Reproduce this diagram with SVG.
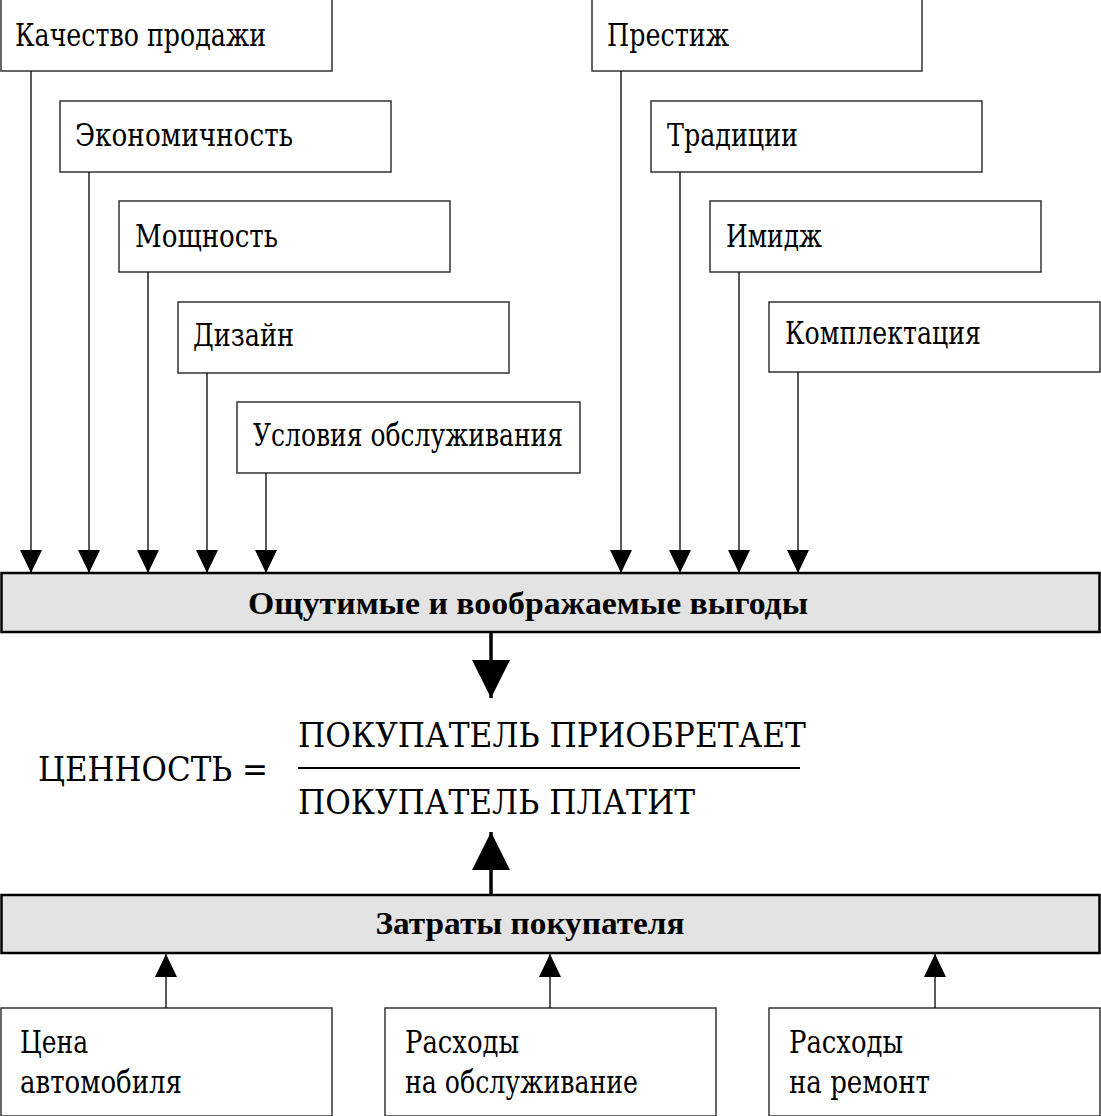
<svg xmlns="http://www.w3.org/2000/svg" width="1101" height="1116" viewBox="0 0 1101 1116">
<style>
.box{fill:#fff;stroke:#333;stroke-width:1.5}
.gbox{fill:#e3e3e3;stroke:#000;stroke-width:2.5}
.t{font-family:"DejaVu Serif","Liberation Serif",serif;font-size:31px;font-weight:normal;fill:#000}
.b{font-family:"Liberation Serif","Times New Roman",serif;font-size:31px;font-weight:bold;fill:#000}
.f{font-family:"DejaVu Serif","Liberation Serif",serif;font-size:33px;font-weight:normal;fill:#000}
.ln{stroke:#000;stroke-width:1.3;fill:none}
.lnb{stroke:#000;stroke-width:3.5;fill:none}
</style>
<defs>
<marker id="ah" markerUnits="userSpaceOnUse" markerWidth="23" markerHeight="22" refX="23" refY="11" orient="auto">
<path d="M0,0 L23,11 L0,22 z" fill="#000"/>
</marker>
<marker id="ahb" markerUnits="userSpaceOnUse" markerWidth="38" markerHeight="38" refX="38" refY="19" orient="auto">
<path d="M0,0 L38,19 L0,38 z" fill="#000"/>
</marker>
</defs>

<g id="n-kachestvo"><rect class="box" x="1" y="-1" width="331" height="72"/><text class="t" x="15" y="46" textLength="251" lengthAdjust="spacingAndGlyphs">Качество продажи</text></g>
<g id="n-ekonom"><rect class="box" x="60" y="101" width="331" height="71"/><text class="t" x="75" y="146" textLength="218" lengthAdjust="spacingAndGlyphs">Экономичность</text></g>
<g id="n-moshch"><rect class="box" x="119" y="201" width="331" height="71"/><text class="t" x="135" y="247" textLength="143" lengthAdjust="spacingAndGlyphs">Мощность</text></g>
<g id="n-dizain"><rect class="box" x="178" y="302" width="331" height="71"/><text class="t" x="193" y="346" textLength="101" lengthAdjust="spacingAndGlyphs">Дизайн</text></g>
<g id="n-uslovia"><rect class="box" x="237" y="402" width="343" height="71"/><text class="t" x="253" y="446" textLength="310" lengthAdjust="spacingAndGlyphs">Условия обслуживания</text></g>

<g id="n-prestizh"><rect class="box" x="592" y="-1" width="330" height="72"/><text class="t" x="607" y="46" textLength="122" lengthAdjust="spacingAndGlyphs">Престиж</text></g>
<g id="n-tradicii"><rect class="box" x="651" y="101" width="331" height="71"/><text class="t" x="667" y="146" textLength="131" lengthAdjust="spacingAndGlyphs">Традиции</text></g>
<g id="n-imidzh"><rect class="box" x="710" y="201" width="331" height="71"/><text class="t" x="726" y="247" textLength="96" lengthAdjust="spacingAndGlyphs">Имидж</text></g>
<g id="n-komplekt"><rect class="box" x="769" y="302" width="331" height="70"/><text class="t" x="785" y="344" textLength="196" lengthAdjust="spacingAndGlyphs">Комплектация</text></g>

<g id="n-vygody"><rect class="gbox" x="1.5" y="573" width="1098" height="59"/><text class="b" x="528" y="614" text-anchor="middle" textLength="560" lengthAdjust="spacingAndGlyphs">Ощутимые и воображаемые выгоды</text></g>

<g id="n-formula">
<text class="f" x="38" y="781" textLength="230" lengthAdjust="spacingAndGlyphs">ЦЕННОСТЬ =</text>
<text class="f" x="298" y="747" textLength="508" lengthAdjust="spacingAndGlyphs">ПОКУПАТЕЛЬ  ПРИОБРЕТАЕТ</text>
<line x1="298" y1="768" x2="800" y2="768" stroke="#000" stroke-width="2"/>
<text class="f" x="298" y="814" textLength="397" lengthAdjust="spacingAndGlyphs">ПОКУПАТЕЛЬ  ПЛАТИТ</text>
</g>

<g id="n-zatraty"><rect class="gbox" x="1.5" y="895" width="1098" height="58"/><text class="b" x="530" y="934" text-anchor="middle" textLength="309" lengthAdjust="spacingAndGlyphs">Затраты покупателя</text></g>

<g id="n-cena"><rect class="box" x="1" y="1008" width="331" height="108"/><text class="t" x="20" y="1053" textLength="68" lengthAdjust="spacingAndGlyphs">Цена</text><text class="t" x="20" y="1093" textLength="162" lengthAdjust="spacingAndGlyphs">автомобиля</text></g>
<g id="n-obsl"><rect class="box" x="385" y="1008" width="331" height="108"/><text class="t" x="405" y="1053" textLength="114" lengthAdjust="spacingAndGlyphs">Расходы</text><text class="t" x="405" y="1093" textLength="233" lengthAdjust="spacingAndGlyphs">на обслуживание</text></g>
<g id="n-remont"><rect class="box" x="769" y="1008" width="331" height="108"/><text class="t" x="789" y="1053" textLength="114" lengthAdjust="spacingAndGlyphs">Расходы</text><text class="t" x="789" y="1093" textLength="141" lengthAdjust="spacingAndGlyphs">на ремонт</text></g>

<g id="connectors">
<line class="ln" x1="31" y1="71" x2="31" y2="573" marker-end="url(#ah)"/>
<line class="ln" x1="89" y1="172" x2="89" y2="573" marker-end="url(#ah)"/>
<line class="ln" x1="148" y1="272" x2="148" y2="573" marker-end="url(#ah)"/>
<line class="ln" x1="207" y1="373" x2="207" y2="573" marker-end="url(#ah)"/>
<line class="ln" x1="266" y1="473" x2="266" y2="573" marker-end="url(#ah)"/>
<line class="ln" x1="621" y1="71" x2="621" y2="573" marker-end="url(#ah)"/>
<line class="ln" x1="680" y1="172" x2="680" y2="573" marker-end="url(#ah)"/>
<line class="ln" x1="739" y1="272" x2="739" y2="573" marker-end="url(#ah)"/>
<line class="ln" x1="798" y1="372" x2="798" y2="573" marker-end="url(#ah)"/>
<line class="lnb" x1="491" y1="632" x2="491" y2="698" marker-end="url(#ahb)"/>
<line class="lnb" x1="491" y1="895" x2="491" y2="832" marker-end="url(#ahb)"/>
<line class="ln" x1="166" y1="1008" x2="166" y2="954" marker-end="url(#ah)"/>
<line class="ln" x1="550" y1="1008" x2="550" y2="954" marker-end="url(#ah)"/>
<line class="ln" x1="935" y1="1008" x2="935" y2="954" marker-end="url(#ah)"/>
</g>
</svg>
